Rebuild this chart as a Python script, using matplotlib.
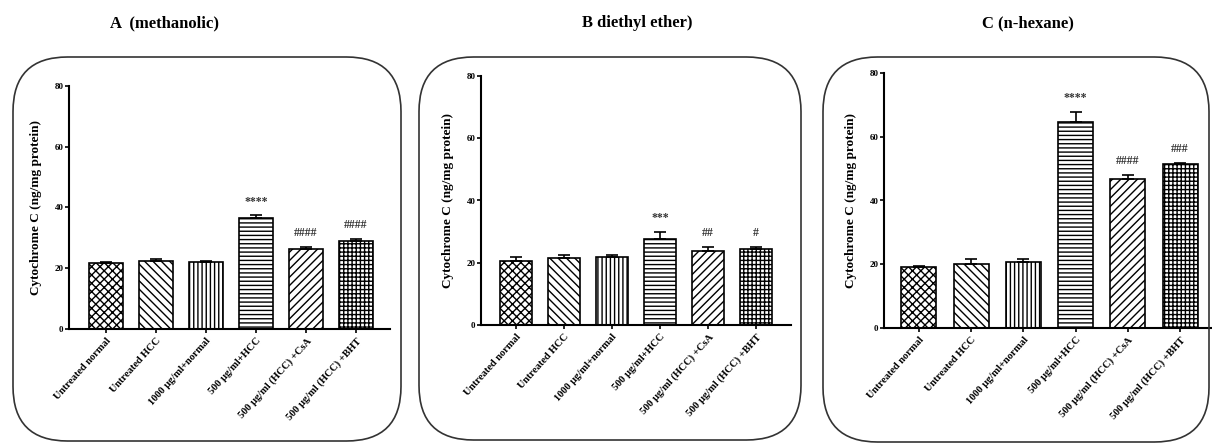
import numpy as np
import matplotlib.pyplot as plt
from matplotlib.patches import FancyBboxPatch

plt.rcParams['font.family'] = ['Liberation Serif', 'DejaVu Serif']
plt.rcParams['font.weight'] = 'bold'
plt.rcParams['axes.labelweight'] = 'bold'
plt.rcParams['hatch.linewidth'] = 1.0

groups = ['Untreated normal', 'Untreated HCC', '1000 µg/ml+normal',
          '500 µg/ml+HCC', '500 µg/ml (HCC) +CsA', '500 µg/ml (HCC) +BHT']
hatches = ['xxxx', '\\\\\\\\', '||||', '----', '////', '++++']

titles = ['A  (methanolic)', 'B diethyl ether)', 'C (n-hexane)']

# mean and SEM per extract
mean_a = [21.8, 22.3, 22.1, 36.7, 26.5, 29.0]
sem_a = [0.4, 0.6, 0.4, 0.8, 0.5, 0.6]
stars_a = ['', '', '', '****', '####', '####']

mean_b = [20.6, 21.6, 21.8, 27.6, 23.9, 24.3]
sem_b = [1.4, 0.8, 0.7, 2.2, 1.1, 0.7]
stars_b = ['', '', '', '***', '##', '#']

mean_c = [19.1, 20.2, 20.7, 64.5, 46.6, 51.3]
sem_c = [0.5, 1.4, 1.1, 3.4, 1.3, 0.5]
stars_c = ['', '', '', '****', '####', '###']

W, H = 1212, 444
fig = plt.figure(figsize=(W / 100, H / 100), dpi=100)


def px(l, r, t, b):
    return [l / W, 1 - b / H, (r - l) / W, (b - t) / H]


# rounded frames around each panel
for (l, r, t, b) in [(13, 401, 57, 441), (419, 801, 57, 440), (823, 1209, 57, 442)]:
    box = FancyBboxPatch((l / W, 1 - b / H), (r - l) / W, (b - t) / H,
                         boxstyle='round,pad=0,rounding_size=0.045',
                         transform=fig.transFigure, fill=False,
                         edgecolor='#333333', linewidth=1.2,
                         mutation_aspect=W / H)
    fig.patches.append(box)

panels = [
    (px(69, 390, 86, 329), (-0.74, 5.68), 0.68, mean_a, sem_a, stars_a),
    (px(481, 791, 76, 325), (-0.73, 5.73), 0.65, mean_b, sem_b, stars_b),
    (px(884, 1225, 73, 328), (-0.67, 5.86), 0.67, mean_c, sem_c, stars_c),
]

title_x = [165, 637, 1028]

for i, (rect, xl, bw, mean, sem, stars) in enumerate(panels):
    ax = fig.add_axes(rect)
    x = np.arange(len(groups))
    for k in range(len(groups)):
        ax.bar(x[k], mean[k], width=bw, color='white', edgecolor='black',
               hatch=hatches[k], linewidth=1.2)
        ax.errorbar(x[k], mean[k], yerr=[[0], [sem[k]]], fmt='none',
                    ecolor='black', elinewidth=1.2, capsize=4, capthick=1.2)
        if stars[k]:
            ax.text(x[k], mean[k] + sem[k] + 2.5, stars[k], ha='center',
                    va='bottom', fontsize=8.5, color='#333333')
    ax.set_xlim(*xl)
    ax.set_ylim(0, 80)
    ax.set_yticks([0, 20, 40, 60, 80])
    ax.set_xticks(x)
    ax.set_xticklabels(groups, rotation=48, ha='right', rotation_mode='anchor',
                       fontsize=7.5, fontweight='bold')
    for lab in ax.get_yticklabels():
        lab.set_fontweight('bold')
    ax.tick_params(axis='y', labelsize=6.5, length=3, width=1.2, pad=1)
    ax.tick_params(axis='x', length=3, width=1.2, pad=2)
    for s in ['top', 'right']:
        ax.spines[s].set_visible(False)
    for s in ['left', 'bottom']:
        ax.spines[s].set_linewidth(1.5)
    ax.set_ylabel('Cytochrome C (ng/mg protein)', fontsize=9.5,
                  fontweight='bold', labelpad=9)
    fig.text(title_x[i] / W, 1 - 23 / H, titles[i], ha='center', va='center',
             fontsize=12, fontweight='bold')

fig.savefig('out.png', dpi=100)
